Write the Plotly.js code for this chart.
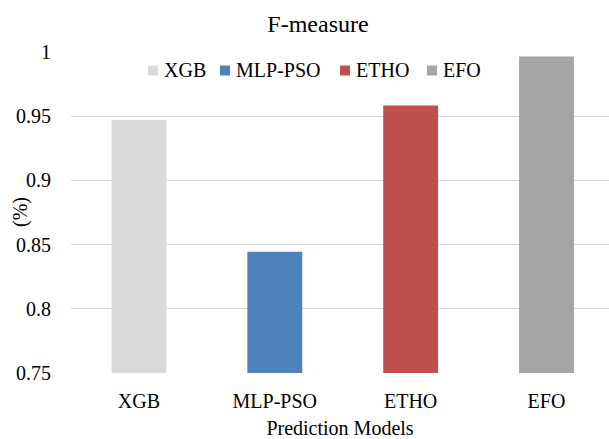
<!DOCTYPE html>
<html>
<head>
<meta charset="utf-8">
<script src="https://cdn.plot.ly/plotly-3.0.1.min.js"></script>
<style>html,body{margin:0;padding:0;background:#fff;}#chart{width:609px;height:439px;}</style>
</head>
<body>
<div id="chart"></div>
<script>
const categories = ["XGB", "MLP-PSO", "ETHO", "EFO"];
const fMeasure = [0.947, 0.8444, 0.9583, 0.9965];
const colors = ["#d9d9d9", "#4f81bd", "#c0504d", "#a5a5a5"];
const yTickVals = [0.75, 0.8, 0.85, 0.9, 0.95, 1];
const yTickText = ["0.75", "0.8", "0.85", "0.9", "0.95", "1"];

const FONT = "'Liberation Serif', 'Times New Roman', Times, serif";

// geometry (pixels)
const W = 609, H = 439, ML = 71, MR = 0, MT = 52, MB = 66;
const PW = W - ML - MR, PH = H - MT - MB;
const px2x = p => (p - ML) / PW;
const py2y = p => (H - MB - p) / PH;

// legend layout (pixel positions of each entry's square)
const legendSquareLeft = [148, 220, 340, 427];
const legendSquareSize = 10;
const legendTextGap = 4;
const legendCenterY = 70.5;

const traces = categories.map((c, i) => ({
  type: "bar",
  name: c,
  x: [c],
  y: [fMeasure[i]],
  base: 0,
  width: 0.404,
  marker: {color: colors[i]},
  showlegend: false,
  hoverinfo: "x+y"
}));

const shapes = [{
  type: "rect", xref: "paper", yref: "paper", layer: "above",
  x0: px2x(131), x1: px2x(491), y0: py2y(92), y1: py2y(45),
  fillcolor: "#fff", line: {width: 0}
}];
const annotations = [];
categories.forEach((c, i) => {
  const l = legendSquareLeft[i];
  shapes.push({
    type: "rect", xref: "paper", yref: "paper", layer: "above",
    x0: px2x(l), x1: px2x(l + legendSquareSize),
    y0: py2y(legendCenterY + legendSquareSize / 2), y1: py2y(legendCenterY - legendSquareSize / 2),
    fillcolor: colors[i], line: {width: 0}
  });
  annotations.push({
    text: c, showarrow: false,
    xref: "paper", x: px2x(l + legendSquareSize + legendTextGap), xanchor: "left",
    yref: "paper", y: py2y(legendCenterY - 0.5), yanchor: "middle",
    font: {family: FONT, size: 20, color: "#000"}
  });
});
annotations.push({
  text: "(%)",
  textangle: -90,
  xref: "paper", x: px2x(20), xanchor: "center",
  yref: "paper", y: py2y(212), yanchor: "middle",
  showarrow: false,
  font: {family: FONT, size: 20, color: "#000"}
});

const layout = {
  width: W,
  height: H,
  margin: {l: ML, r: MR, t: MT, b: MB, pad: 0},
  paper_bgcolor: "#fff",
  plot_bgcolor: "#fff",
  font: {family: FONT, size: 20, color: "#000"},
  barmode: "overlay",
  showlegend: false,
  title: {
    text: "F-measure",
    font: {family: FONT, size: 24, color: "#000"},
    xref: "paper", x: px2x(318), xanchor: "center",
    yref: "container", y: 1 - 24 / H, yanchor: "middle"
  },
  xaxis: {
    type: "category",
    range: [-0.5, 3.46],
    showgrid: false,
    zeroline: false,
    showline: false,
    ticks: "",
    ticklabelstandoff: 14,
    tickfont: {family: FONT, size: 20, color: "#000"},
    title: {text: "Prediction Models", font: {family: FONT, size: 20, color: "#000"}, standoff: 10},
    fixedrange: true
  },
  yaxis: {
    range: [0.75, 1],
    tickvals: yTickVals,
    ticktext: yTickText,
    showgrid: true,
    gridcolor: "#d9d9d9",
    gridwidth: 1.3,
    zeroline: false,
    showline: false,
    ticks: "",
    ticklabelstandoff: 19,
    tickfont: {family: FONT, size: 20, color: "#000"},
    fixedrange: true
  },
  shapes: shapes,
  annotations: annotations
};

Plotly.newPlot("chart", traces, layout, {displayModeBar: false, staticPlot: true});
</script>
</body>
</html>
